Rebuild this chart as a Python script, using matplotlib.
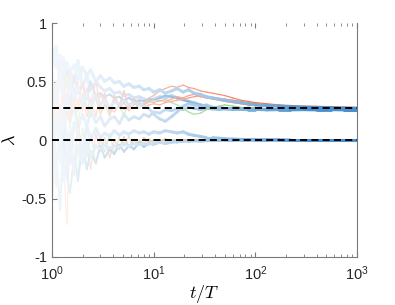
import numpy as np
import matplotlib
matplotlib.use('Agg')
import matplotlib.pyplot as plt
from matplotlib.collections import LineCollection
from matplotlib.colors import to_rgb

plt.rcParams['font.family'] = ['Liberation Sans', 'DejaVu Sans']
plt.rcParams['mathtext.fontset'] = 'cm'

# time samples (t/T)
t = [1, 1.1, 1.2, 1.3, 1.4, 1.5, 1.65, 1.8, 2, 2.2, 2.4, 2.7, 3, 3.3, 3.7, 4.1,
     4.6, 5.1, 5.7, 6.4, 7.2, 8, 9, 10, 11.5, 13, 15, 17, 19.5, 22, 25, 29,
     33, 38, 44, 50, 60, 72, 85, 100, 130, 170, 220, 300, 400, 550, 750, 1000]

# upper group (converges to lam_top)
u1 = [0.78, 0.62, 0.72, 0.55, 0.66, 0.58, 0.64, 0.52, 0.62, 0.55, 0.6, 0.5, 0.55, 0.5, 0.53, 0.49,
      0.5, 0.46, 0.48, 0.45, 0.46, 0.43, 0.44, 0.41, 0.43, 0.4, 0.42, 0.44, 0.41, 0.43, 0.4, 0.39,
      0.37, 0.36, 0.35, 0.34, 0.33, 0.32, 0.31, 0.3, 0.295, 0.29, 0.285, 0.28, 0.278, 0.275, 0.272, 0.27]
u2 = [0.3, 0.5, 0.15, 0.45, 0.2, 0.6, 0.35, 0.5, 0.25, 0.45, 0.3, 0.5, 0.28, 0.4, 0.22, 0.38,
      0.3, 0.42, 0.27, 0.35, 0.32, 0.3, 0.36, 0.38, 0.42, 0.44, 0.46, 0.45, 0.47, 0.45, 0.44, 0.42,
      0.41, 0.4, 0.39, 0.38, 0.36, 0.34, 0.33, 0.32, 0.31, 0.3, 0.295, 0.29, 0.288, 0.285, 0.282, 0.28]
u3 = [0.1, 0.4, 0.25, 0.55, 0.3, 0.2, 0.45, 0.3, 0.5, 0.25, 0.35, 0.2, 0.4, 0.3, 0.25, 0.35,
      0.28, 0.32, 0.25, 0.3, 0.33, 0.28, 0.3, 0.31, 0.3, 0.32, 0.33, 0.34, 0.35, 0.36, 0.37, 0.38,
      0.37, 0.36, 0.355, 0.35, 0.34, 0.33, 0.32, 0.31, 0.3, 0.29, 0.285, 0.28, 0.278, 0.276, 0.274, 0.272]
u9 = [0.45, 0.2, 0.5, 0.3, 0.4, 0.15, 0.35, 0.25, 0.4, 0.2, 0.3, 0.35, 0.22, 0.3, 0.27, 0.24,
      0.3, 0.26, 0.29, 0.27, 0.3, 0.31, 0.33, 0.32, 0.34, 0.33, 0.35, 0.37, 0.36, 0.38, 0.39, 0.37,
      0.36, 0.35, 0.34, 0.33, 0.32, 0.31, 0.3, 0.295, 0.29, 0.285, 0.28, 0.278, 0.276, 0.275, 0.274, 0.273]
u4 = [0.2, 0.45, 0.1, 0.35, 0.55, 0.25, 0.4, 0.15, 0.35, 0.3, 0.2, 0.4, 0.25, 0.3, 0.2, 0.35,
      0.28, 0.22, 0.3, 0.33, 0.27, 0.3, 0.32, 0.34, 0.33, 0.35, 0.32, 0.3, 0.27, 0.24, 0.22, 0.23,
      0.26, 0.28, 0.29, 0.3, 0.29, 0.28, 0.28, 0.275, 0.27, 0.27, 0.268, 0.268, 0.267, 0.267, 0.266, 0.266]
u5 = [0.5, 0.3, 0.6, 0.4, 0.25, 0.5, 0.35, 0.45, 0.3, 0.4, 0.28, 0.38, 0.3, 0.35, 0.27, 0.33,
      0.3, 0.34, 0.3, 0.32, 0.31, 0.29, 0.27, 0.22, 0.18, 0.16, 0.2, 0.24, 0.29, 0.31, 0.3, 0.29,
      0.3, 0.28, 0.27, 0.27, 0.268, 0.265, 0.26, 0.262, 0.26, 0.262, 0.26, 0.262, 0.262, 0.26, 0.262, 0.26]
u6 = [0.65, 0.8, 0.5, 0.7, 0.45, 0.6, 0.5, 0.68, 0.45, 0.55, 0.42, 0.5, 0.45, 0.42, 0.44, 0.4,
      0.41, 0.38, 0.39, 0.36, 0.37, 0.35, 0.34, 0.35, 0.37, 0.36, 0.38, 0.36, 0.35, 0.33, 0.32, 0.3,
      0.29, 0.28, 0.28, 0.27, 0.265, 0.262, 0.26, 0.262, 0.258, 0.26, 0.258, 0.26, 0.258, 0.26, 0.258, 0.258]
u7 = [0.4, 0.1, 0.3, 0.05, 0.25, 0.15, 0.3, 0.1, 0.22, 0.12, 0.25, 0.15, 0.2, 0.12, 0.18, 0.2,
      0.14, 0.22, 0.17, 0.2, 0.18, 0.22, 0.2, 0.24, 0.23, 0.26, 0.25, 0.27, 0.26, 0.28, 0.27, 0.26,
      0.27, 0.265, 0.26, 0.265, 0.26, 0.262, 0.26, 0.26, 0.262, 0.26, 0.26, 0.262, 0.26, 0.26, 0.261, 0.26]
u8 = [0.55, 0.35, 0.7, 0.4, 0.6, 0.3, 0.55, 0.4, 0.48, 0.35, 0.5, 0.38, 0.4, 0.37, 0.39, 0.36,
      0.37, 0.34, 0.36, 0.33, 0.34, 0.33, 0.35, 0.34, 0.36, 0.38, 0.37, 0.36, 0.34, 0.33, 0.31, 0.3,
      0.29, 0.28, 0.275, 0.27, 0.27, 0.268, 0.266, 0.265, 0.265, 0.264, 0.264, 0.263, 0.263, 0.263, 0.262, 0.262]

# lower group (converges to 0)
l1 = [-0.3, 0.2, -0.1, 0.3, 0.0, -0.2, 0.15, 0.05, -0.1, 0.12, 0.0, 0.1, 0.02, 0.06, 0.03, 0.08,
      0.04, 0.07, 0.05, 0.08, 0.06, 0.07, 0.05, 0.07, 0.06, 0.08, 0.07, 0.06, 0.07, 0.05, 0.04, 0.03,
      0.02, 0.02, 0.015, 0.01, 0.008, 0.005, 0.004, 0.003, 0.002, 0.001, 0.0, 0.0, 0.0, 0.0, 0.0, 0.0]
l2 = [0.2, -0.25, 0.1, -0.35, -0.1, 0.05, -0.28, -0.05, -0.2, 0.0, -0.15, -0.05, -0.08, -0.04, -0.07, -0.05,
      -0.06, -0.03, -0.05, -0.03, -0.04, -0.03, -0.035, -0.03, -0.02, -0.03, -0.02, -0.015, -0.01, -0.012, -0.008, -0.01,
      -0.006, -0.005, -0.004, -0.003, -0.003, -0.002, -0.002, -0.001, -0.001, 0.0, 0.0, 0.0, 0.0, 0.0, 0.0, 0.0]
l3 = [0.1, -0.4, 0.25, -0.2, -0.72, 0.05, -0.3, 0.15, -0.1, 0.0, -0.25, 0.05, -0.1, 0.02, -0.15, 0.0,
      -0.08, 0.03, -0.05, 0.0, -0.04, 0.02, -0.02, 0.0, -0.01, 0.01, -0.01, 0.0, 0.005, 0.0, 0.004, 0.0,
      0.003, 0.0, 0.002, 0.0, 0.002, 0.001, 0.001, 0.0, 0.0, 0.0, 0.0, 0.0, 0.0, 0.0, 0.0, 0.0]
l4 = [-0.1, 0.3, -0.2, 0.1, -0.35, 0.15, -0.05, -0.3, 0.1, -0.15, 0.05, -0.2, 0.0, -0.1, 0.05, -0.12,
      0.02, -0.05, 0.03, -0.08, 0.0, -0.03, 0.01, -0.02, 0.0, -0.01, 0.0, 0.005, -0.005, 0.0, 0.003, -0.002,
      0.0, 0.001, 0.0, 0.0, 0.0, 0.0, 0.0, 0.0, 0.0, 0.0, 0.0, 0.0, 0.0, 0.0, 0.0, 0.0]
l5 = [-0.5, -0.1, -0.6, 0.05, -0.3, -0.45, -0.15, -0.35, -0.05, -0.25, -0.1, -0.2, -0.05, -0.15, -0.08, -0.12,
      -0.04, -0.1, -0.05, -0.08, -0.02, -0.06, -0.03, -0.04, -0.02, -0.03, -0.01, -0.02, -0.01, -0.01, -0.005, -0.005,
      -0.004, -0.003, -0.002, -0.002, -0.001, 0.0, 0.0, 0.0, 0.0, 0.0, 0.0, 0.0, 0.0, 0.0, 0.0, 0.0]

lam_top = 0.27
lam_bot = 0.0

blue = '#4a90d0'
orange = '#f4764f'
green = '#86cc80'

# (series, colour, linewidth), drawn in this order
series = [(u7, blue, 2.0), (u6, blue, 2.2), (u8, blue, 1.4), (u4, green, 0.9),
          (u9, orange, 0.9), (u3, orange, 0.9), (u2, orange, 0.9), (u5, blue, 2.0), (u1, blue, 2.2),
          (l4, green, 0.9), (l3, orange, 0.9), (l5, blue, 1.4), (l2, blue, 2.0), (l1, blue, 2.2)]

fig = plt.figure(figsize=(3.95, 3.05), dpi=100)
ax = fig.add_axes([0.1316, 0.1574, 0.7722, 0.767])

tt = np.array(t, dtype=float)
logt = np.log10(tt)
for y, col, lw in series:
    pts = np.column_stack([logt, np.array(y)])
    segs = np.stack([pts[:-1], pts[1:]], axis=1)
    mid = 0.5 * (logt[:-1] + logt[1:])
    # early part drawn faded towards white
    if lw > 1.5:
        a = 0.08 + 0.92 * np.clip(mid / 2.5, 0, 1) ** 1.6
    else:
        a = 0.08 + 0.92 * np.clip(mid / 2.0, 0, 1) ** 1.2
    c = np.array(to_rgb(col))
    cols = (1 - a)[:, None] * np.ones(3) + a[:, None] * c
    lc = LineCollection(segs, colors=cols, linewidths=lw, capstyle='round', joinstyle='round')
    ax.add_collection(lc)

ax.plot([0, 3], [lam_top, lam_top], color='k', lw=1.4, dashes=(3.6, 2.2), zorder=5)
ax.plot([0, 3], [lam_bot, lam_bot], color='k', lw=1.4, dashes=(3.6, 2.2), zorder=5)

ax.set_xlim(0, 3)
ax.set_ylim(-1, 1)
ax.set_xticks([0, 1, 2, 3])
ax.set_xticklabels([r'$\mathdefault{10^{%d}}$' % k for k in range(4)])
minor = [np.log10(m * 10 ** k) for k in range(3) for m in range(2, 10)]
ax.set_xticks(minor, minor=True)
ax.set_yticks([-1, -0.5, 0, 0.5, 1])
ax.set_yticklabels(['-1', '-0.5', '0', '0.5', '1'])

ax.spines['top'].set_visible(False)
for s in ['left', 'bottom', 'right']:
    ax.spines[s].set_color('#7a7a7a')
    ax.spines[s].set_linewidth(0.8)
ax.tick_params(which='both', direction='in', top=True, right=False, colors='#7a7a7a',
               labelcolor='#262626', labelsize=10.5)
ax.tick_params(which='major', length=3.5, width=0.8)
ax.tick_params(which='minor', length=2, width=0.6)
ax.tick_params(axis='x', pad=5)

ax.set_xlabel(r'$t/T$', fontsize=13, labelpad=0)
ax.set_ylabel(r'$\lambda$', fontsize=13)
ax.yaxis.set_label_coords(-0.11, 0.5)

fig.savefig('out.png', dpi=100)
